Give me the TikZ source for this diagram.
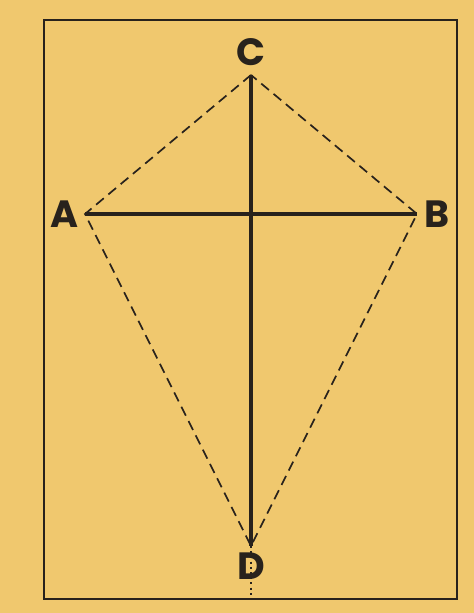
\documentclass[tikz,border=0pt]{standalone}
\usepackage{fontspec}
\setmainfont{Poppins}
\usepackage{xcolor}
\usetikzlibrary{positioning}
\definecolor{paper}{RGB}{240,200,110}
\definecolor{ink}{RGB}{40,34,28}

\begin{document}
\begin{tikzpicture}[x=0.5pt, y=-0.5pt,
			spar/.style={draw=ink, line width=1.9pt},
			edge/.style={draw=ink, line width=0.85pt, dash pattern=on 5pt off 3pt},
			tag/.style={text=ink, font=\fontsize{19}{19}\selectfont\bfseries, inner sep=0pt}]

			\fill[paper] (0,0) rectangle (474,613);
			\useasboundingbox (0,0) rectangle (474,613);
			\draw[ink, line width=1.2pt] (44,20) rectangle (457,599);

			\coordinate (A) at (85,214);
			\coordinate (B) at (417,214);
			\coordinate (C) at (251,75);
			\coordinate (D) at (251,546);
			\coordinate (foot) at (251,599);

			\node[tag, left=3pt of A] (lA) {A};
			\node[tag, right=3.5pt of B] (lB) {B};
			\node[tag, above=4.5pt of C] (lC) {C};
			\node[tag, below=3pt of D] (lD) {D};

			\draw[spar] (A) -- (B);
			\draw[spar] (C) -- (D);
			\draw[edge] (C) -- (A) -- (D) -- (B) -- cycle;
			% dotted drop line through the D
			\draw[ink, line width=0.9pt, dash pattern=on 1pt off 1.6pt] (D) -- (foot);
		\end{tikzpicture}
\end{document}
